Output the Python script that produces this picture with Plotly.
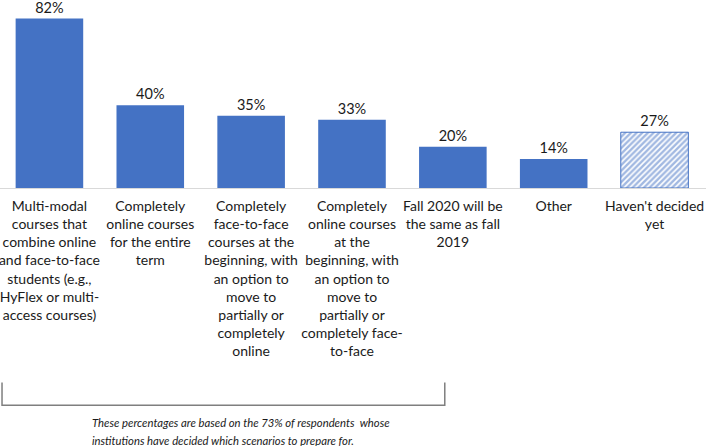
import plotly.graph_objects as go

categories = ["Multi-modal", "Completely online", "Face-to-face first", "Online first",
              "Same as 2019", "Other", "Haven't decided yet"]
tick_labels = [
    "Multi-modal<br>courses that<br>combine online<br>and face-to-face<br>students (e.g.,<br>HyFlex or multi-<br>access courses)",
    "Completely<br>online courses<br>for the entire<br>term",
    "Completely<br>face-to-face<br>courses at the<br>beginning, with<br>an option to<br>move to<br>partially or<br>completely<br>online",
    "Completely<br>online courses<br>at the<br>beginning, with<br>an option to<br>move to<br>partially or<br>completely face-<br>to-face",
    "Fall 2020 will be<br>the same as fall<br>2019",
    "Other",
    "Haven't decided<br>yet",
]
decided_values = [82, 40, 35, 33, 20, 14]
undecided_value = [27]
note_lines = ["These percentages are based on the 73% of respondents  whose",
              "institutions have decided which scenarios to prepare for."]

BLUE = "#4472C4"
FONT = "Lato"
TXT = "#1a1a1a"

fig = go.Figure()
fig.add_trace(go.Bar(
    x=categories[:6], y=decided_values,
    marker=dict(color=BLUE, line=dict(width=0)),
    text=[f"{v}%" for v in decided_values], textposition="outside",
    textfont=dict(family=FONT, size=14.5, color=TXT),
    cliponaxis=False, width=0.67,
))
fig.add_trace(go.Bar(
    x=categories[6:], y=undecided_value,
    marker=dict(color="white", line=dict(color=BLUE, width=1),
                pattern=dict(shape="/", fgcolor=BLUE, bgcolor="white", size=4, solidity=0.6)),
    text=[f"{v}%" for v in undecided_value], textposition="outside",
    textfont=dict(family=FONT, size=14.5, color=TXT),
    cliponaxis=False, width=0.67,
))

fig.update_layout(
    width=706, height=446,
    margin=dict(l=0, r=0, t=0, b=258, autoexpand=False),
    paper_bgcolor="white", plot_bgcolor="white",
    barmode="overlay", showlegend=False,
    font=dict(family=FONT, size=14, color=TXT),
)
fig.update_xaxes(
    type="category", categoryorder="array", categoryarray=categories,
    tickvals=categories, ticktext=tick_labels, automargin=False,
    range=[-0.49, 6.51], showline=True, linecolor="#d9d9d9", linewidth=1,
    showgrid=False, ticks="", tickangle=0, ticklabelstandoff=5,
    tickfont=dict(family=FONT, size=14, color=TXT),
)
fig.update_yaxes(range=[0, 91], visible=False, showgrid=False, zeroline=False, automargin=False)

# bracket under the first four categories
fig.add_shape(type="path", xref="x", yref="paper",
              path="M -0.47,-1.035 L -0.47,-1.155 L 3.92,-1.155 L 3.92,-1.035",
              line=dict(color="#7f7f7f", width=1.5))
for i, line in enumerate(note_lines):
    fig.add_annotation(xref="paper", yref="paper", x=0.1275, y=-1.245 - i * 0.097,
                       xanchor="left", yanchor="middle", align="left", showarrow=False,
                       text=line, font=dict(family=FONT, size=11.3, color=TXT, style="italic"))

fig.write_html("out.html", config={"displayModeBar": False},
               post_script="document.body.style.margin='0';document.body.style.padding='0';")
